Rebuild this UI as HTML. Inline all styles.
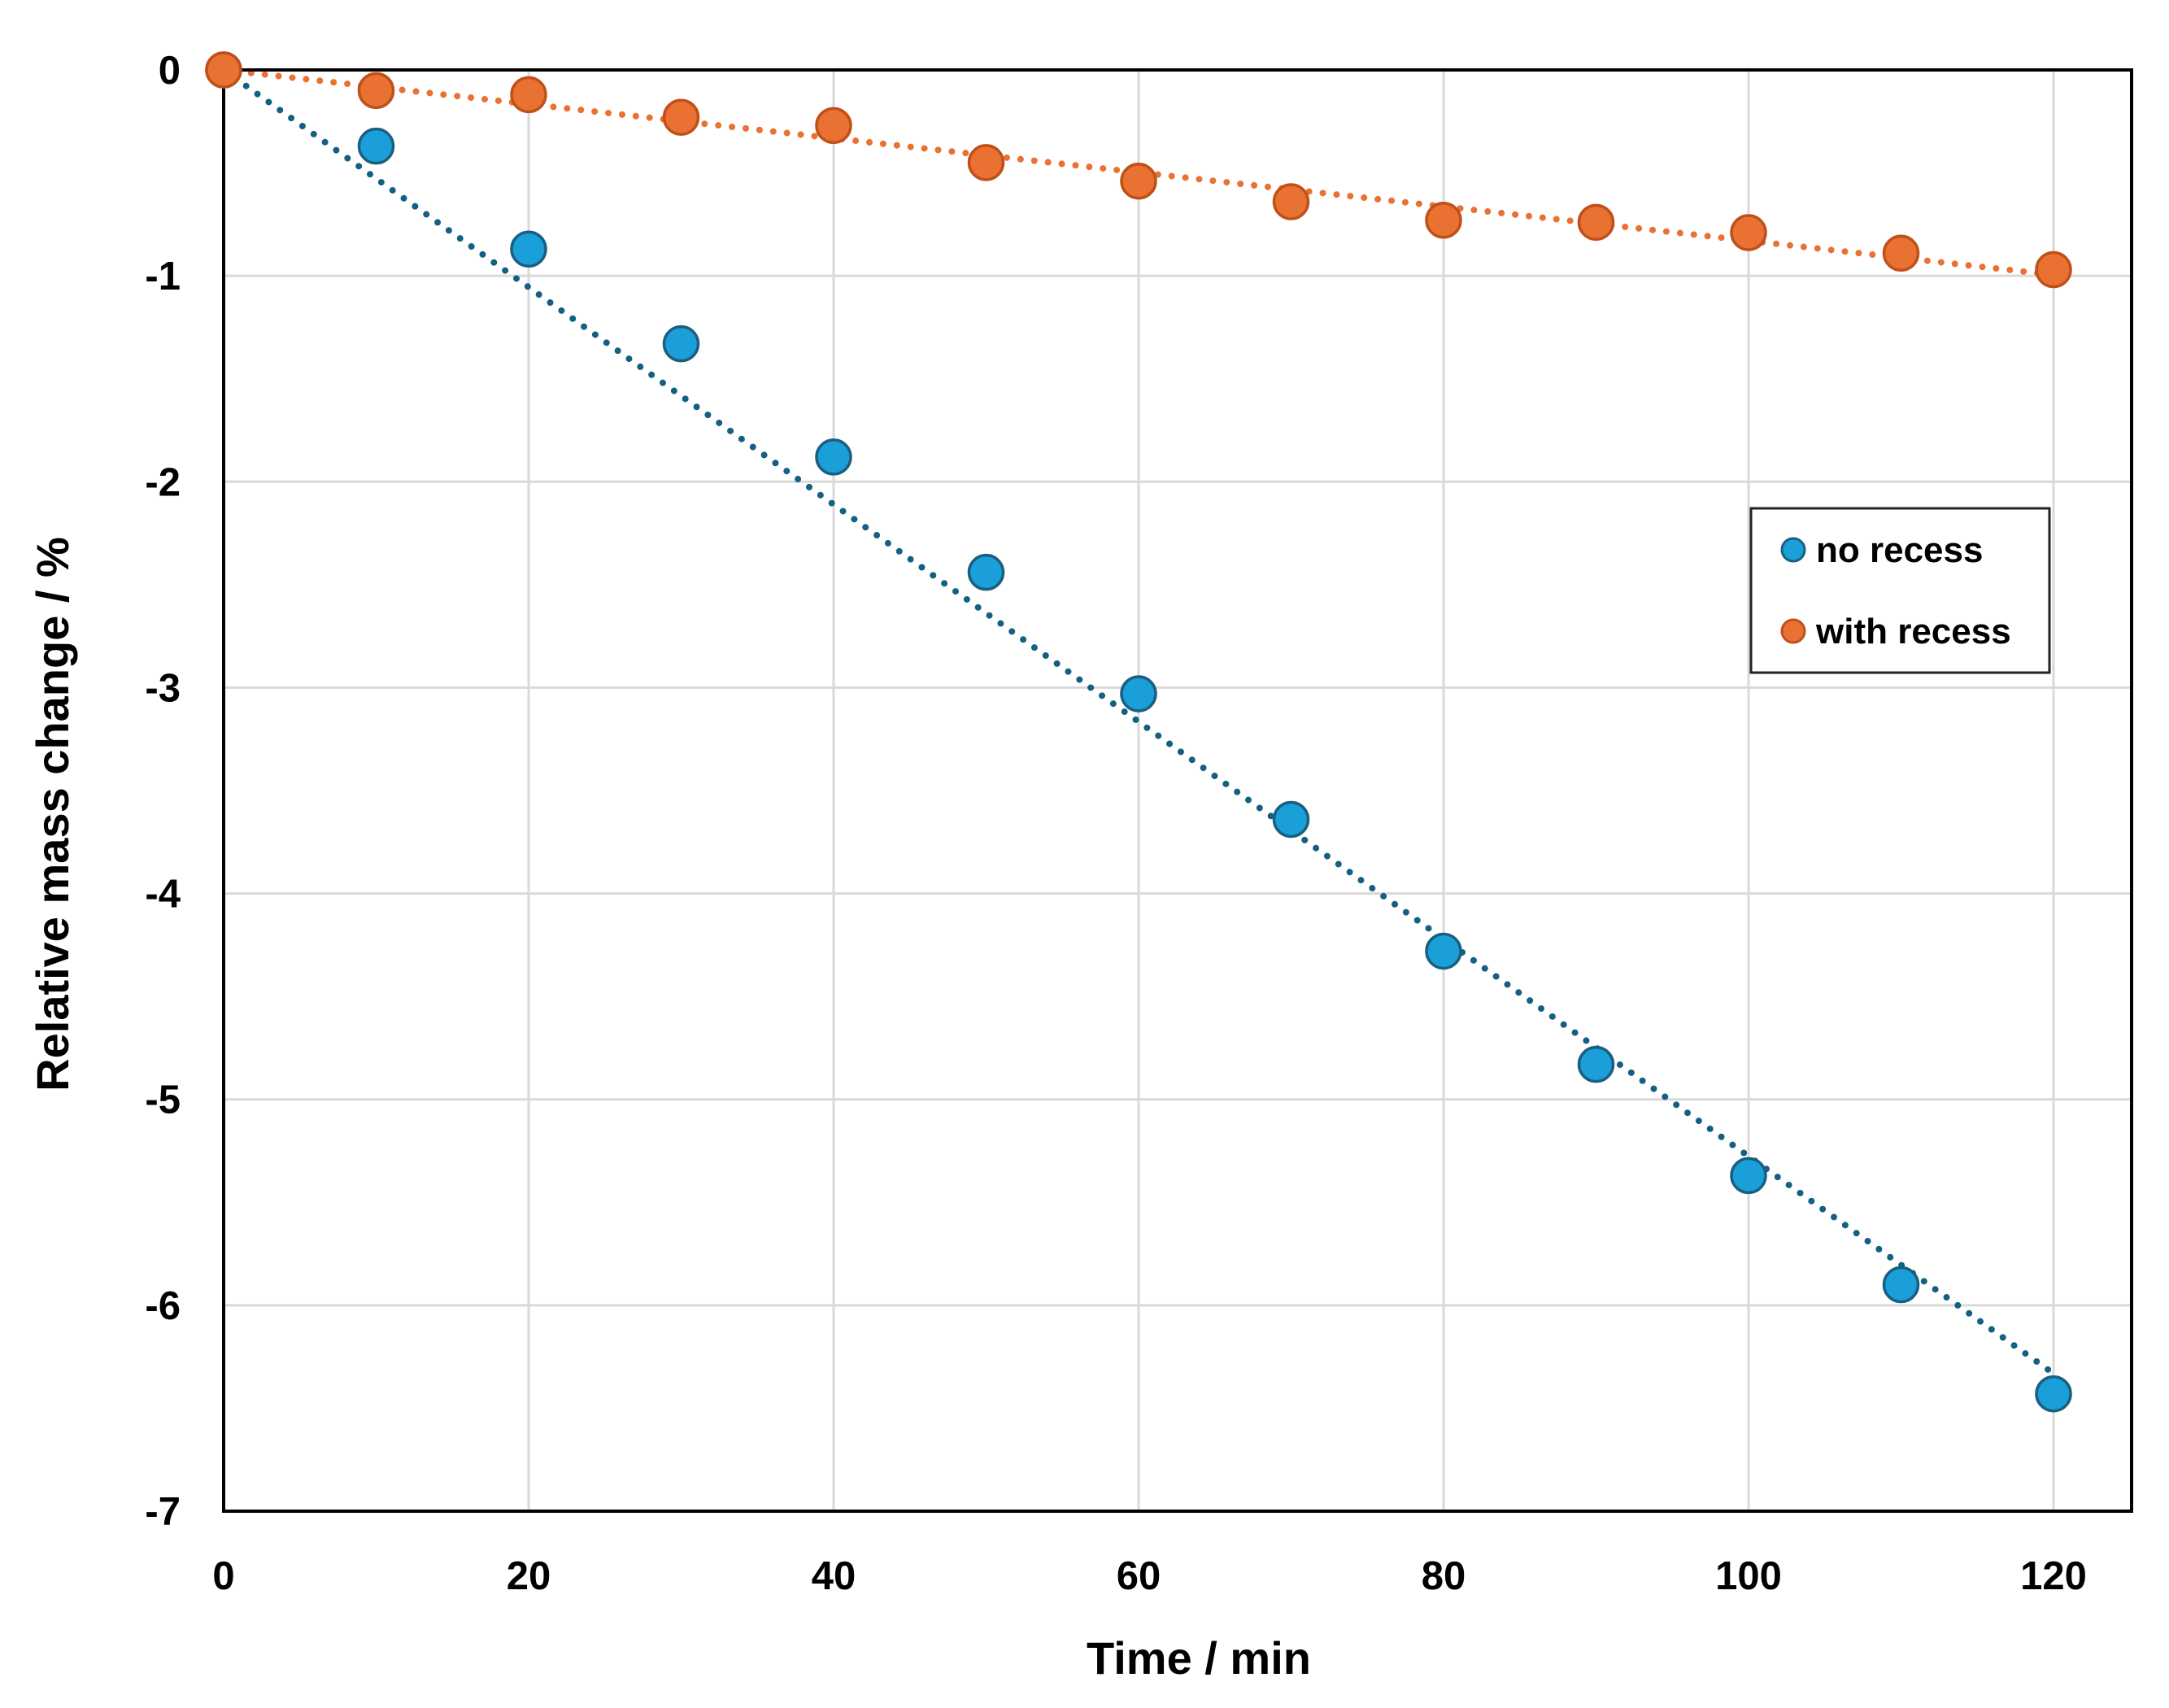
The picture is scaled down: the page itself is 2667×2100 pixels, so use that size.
<!DOCTYPE html>
<html><head><meta charset="utf-8"><style>
html,body{margin:0;padding:0;background:#fff;}
svg text{font-family:"Liberation Sans",sans-serif;font-weight:bold;fill:#000;}
</style></head><body>
<svg id="chart" width="2667" height="2095" viewBox="0 0 2667 2095" xmlns="http://www.w3.org/2000/svg">
<g id="grid"></g>
<g id="trends"></g>
<rect x="275" y="86" width="2346" height="1772" fill="none" stroke="#000" stroke-width="4"/>
<g id="points"></g>
<g id="yticks"></g>
<g id="xticks"></g>
<text x="1474" y="2058" font-size="56" text-anchor="middle">Time / min</text>
<text x="0" y="0" font-size="56" text-anchor="middle" transform="translate(84,1001) rotate(-90)">Relative mass change / %</text>
<g>
<rect x="2153" y="625" width="367" height="202" fill="#fff" stroke="#222" stroke-width="3"/>
<g>
<circle cx="2205" cy="676" r="14" fill="#1a9fd8" stroke="#1a5f80" stroke-width="3"/>
<text x="2233" y="691" font-size="44">no recess</text></g>
<g>
<circle cx="2205" cy="776" r="14" fill="#e97132" stroke="#c0501a" stroke-width="3"/>
<text x="2233" y="791" font-size="44">with recess</text></g>
</g>
</svg>
<script>
const times = [0,10,20,30,40,50,60,70,80,90,100,110,120];
const noRecess = [0,-0.37,-0.87,-1.33,-1.88,-2.44,-3.03,-3.64,-4.28,-4.83,-5.37,-5.90,-6.43];
const withRecess = [0,-0.10,-0.12,-0.23,-0.27,-0.45,-0.54,-0.64,-0.73,-0.74,-0.79,-0.89,-0.97];
const xTicks = [0,20,40,60,80,100,120];
const yTicks = [0,-1,-2,-3,-4,-5,-6,-7];

const NS='http://www.w3.org/2000/svg';
const L=275,R=2621,T=86,B=1858;
function xs(v){return L+(v/20)*375;}
function ys(v){return T+(-v/7)*(B-T);}
function mk(tag,attrs,parent){const e=document.createElementNS(NS,tag);for(const k in attrs)e.setAttribute(k,attrs[k]);parent.appendChild(e);return e;}
const grid=document.getElementById('grid');
xTicks.forEach(t=>{const l=mk('line',{x1:xs(t),x2:xs(t),y1:T,y2:B,stroke:'#d9d9d9','stroke-width':3},grid);


const tx=mk('text',{x:xs(t),y:1954,'font-size':49,'text-anchor':'middle'},document.getElementById('xticks'));tx.textContent=t;

});
yTicks.forEach(t=>{const l=mk('line',{x1:L,x2:R,y1:ys(t),y2:ys(t),stroke:'#d9d9d9','stroke-width':3},grid);


const tx=mk('text',{x:222,y:ys(t)+17,'font-size':49,'text-anchor':'end'},document.getElementById('yticks'));tx.textContent=t;

});
function slope(ys_){let a=0,b=0;times.forEach((t,i)=>{a+=t*ys_[i];b+=t*t;});return a/b;}
const trends=document.getElementById('trends');
[[noRecess,'#155f82'],[withRecess,'#e97132']].forEach(([d,c])=>{const s=slope(d);
const l=mk('line',{x1:xs(0),y1:ys(0),x2:xs(120),y2:ys(s*120),stroke:c,'stroke-width':8,'stroke-linecap':'round','stroke-dasharray':'0 17'},trends);

});
const pts=document.getElementById('points');
[[noRecess,'#1a9fd8','#1a5f80','point-no-recess'],[withRecess,'#e97132','#c0501a','point-with-recess']].forEach(([d,f,s,n])=>{
times.forEach((t,i)=>{const c=mk('circle',{cx:xs(t),cy:ys(d[i]),r:21,fill:f,stroke:s,'stroke-width':3.5},pts);

});});
</script>
</body></html>
